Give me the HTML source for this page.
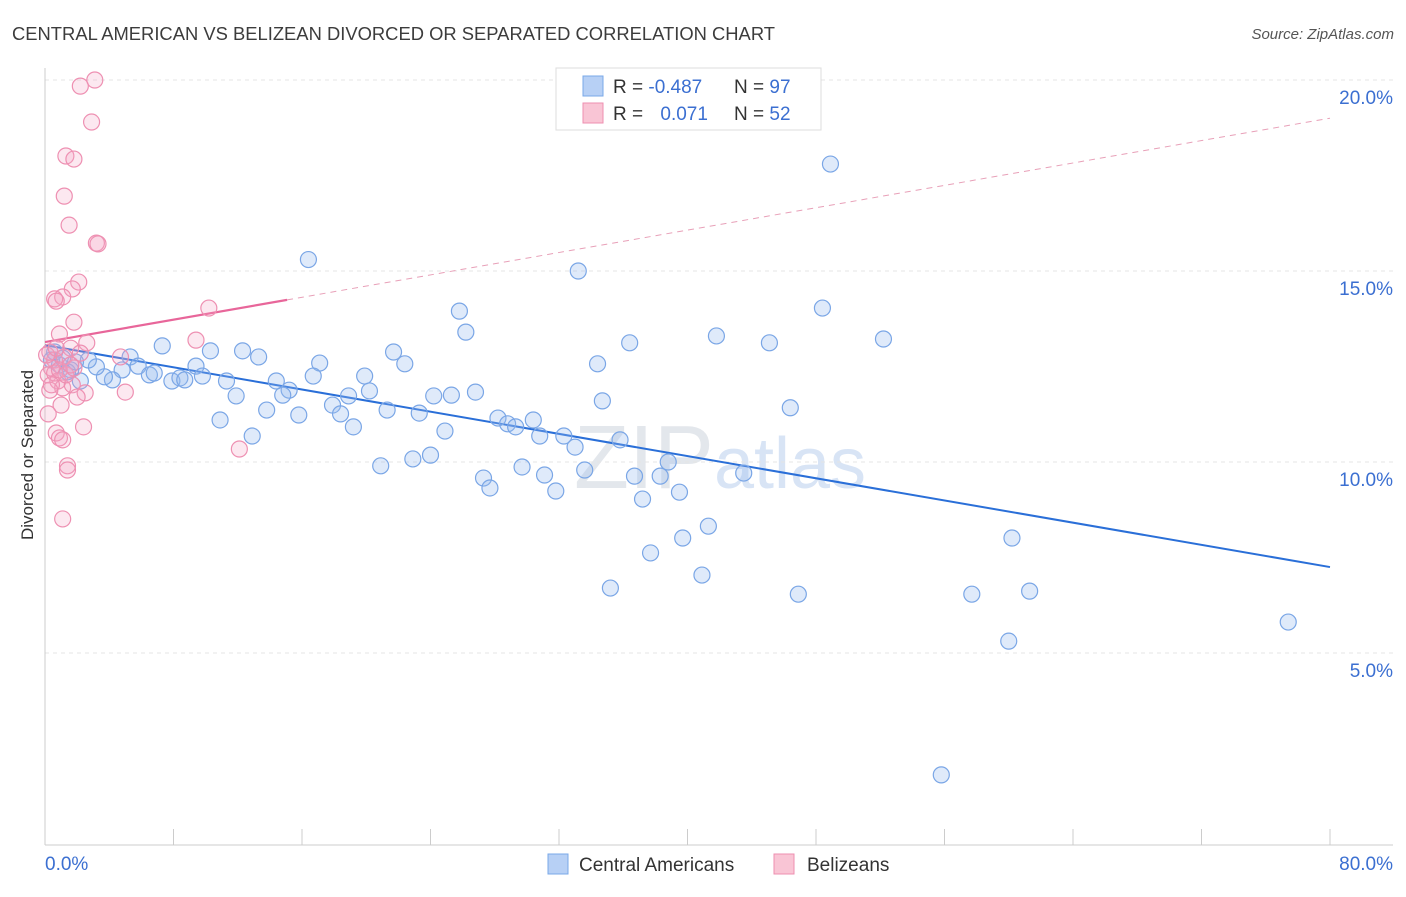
<!DOCTYPE html>
<html><head><meta charset="utf-8"><style>
body{margin:0;background:#fff;font-family:"Liberation Sans",sans-serif}
svg text{font-family:"Liberation Sans",sans-serif}
</style></head><body>
<svg id="chart" width="1406" height="892" xmlns="http://www.w3.org/2000/svg">
<text x="12" y="40" font-size="18" fill="#3c3c3c" textLength="763" lengthAdjust="spacingAndGlyphs">CENTRAL AMERICAN VS BELIZEAN DIVORCED OR SEPARATED CORRELATION CHART</text>
<text x="1394" y="39" font-size="15" fill="#555" text-anchor="end" font-style="italic">Source: ZipAtlas.com</text>
<text x="720" y="488" font-size="90" fill="#dfe6f0" text-anchor="middle" font-family="Liberation Serif" opacity="0.7"><tspan fill="#d8dde4">ZIP</tspan><tspan fill="#c8d9f2" font-family="Liberation Sans" font-size="72">atlas</tspan></text>
<g id="grid"></g>
<g id="axes"></g>
<g id="trend"></g>
<g id="pts"></g>
<text transform="translate(33,455) rotate(-90)" font-size="17" fill="#333" text-anchor="middle">Divorced or Separated</text>
<g>
<rect x="556" y="68" width="265" height="62" fill="#fff" stroke="#ddd"/>
<rect x="583" y="76" width="20" height="20" fill="#b7d0f5" stroke="#7aa8e8"/>
<rect x="583" y="103" width="20" height="20" fill="#f9c5d5" stroke="#ee8fb0"/>
<text x="613" y="93" font-size="19" fill="#333">R = <tspan fill="#3b6fd1">-0.487</tspan></text>
<text x="734" y="93" font-size="19" fill="#333">N = <tspan fill="#3b6fd1">97</tspan></text>
<text x="613" y="120" font-size="19" fill="#333">R = <tspan fill="#3b6fd1" dx="12">0.071</tspan></text>
<text x="734" y="120" font-size="19" fill="#333">N = <tspan fill="#3b6fd1">52</tspan></text>
</g>
<g>
<rect x="548" y="854" width="20" height="20" fill="#b7d0f5" stroke="#7aa8e8"/>
<text x="579" y="871" font-size="19" fill="#333">Central Americans</text>
<rect x="774" y="854" width="20" height="20" fill="#f9c5d5" stroke="#ee8fb0"/>
<text x="807" y="871" font-size="19" fill="#333">Belizeans</text>
</g>
</svg>
<script>
const yTicks=[5,10,15,20];
const yTickLabels=["5.0%","10.0%","15.0%","20.0%"];
const blueX=[16.4,48.9,33.2,48.4,52.2,41.8,45.1,36.4,34.4,34.7,46.4,25.8,26.2,21.7,22.4,17.1,16.7,19.9,18.9,20.2,17.9,18.4,19.2,21.3,23.3,24.2,25.3,26.8,24.9,28.2,28.8,29.3,30.4,30.8,32.3,33.0,35.8,20.9,22.9,24.0,27.3,27.7,29.7,31.1,31.8,33.6,36.7,37.2,38.3,38.8,39.5,43.5,41.3,39.7,37.7,40.9,35.2,46.9,57.7,61.3,60.2,60.0,77.4,55.8,7.3,10.3,12.3,13.3,9.4,9.8,11.3,11.9,14.4,15.2,14.8,15.8,13.8,10.9,12.9,5.3,5.8,6.5,6.8,7.9,8.4,8.7,4.8,4.2,3.7,3.2,2.7,2.2,1.6,0.9,0.4,0.6,1.1,1.4,1.9];
const blueY=[15.3,17.8,15.0,14.03,13.22,13.3,13.12,13.12,12.57,11.6,11.42,13.95,13.4,12.88,12.57,12.59,12.25,12.25,11.73,11.86,11.49,11.26,10.92,11.36,11.28,11.73,11.75,11.83,10.81,11.15,11.0,10.92,11.1,10.68,10.68,10.39,10.58,9.9,10.08,10.18,9.58,9.32,9.87,9.66,9.24,9.79,9.63,9.03,9.63,10.0,9.21,9.71,8.32,8.01,7.62,7.04,6.7,6.54,6.54,6.62,8.01,5.31,5.81,1.81,13.04,12.91,12.91,12.75,12.51,12.25,12.12,11.73,12.12,11.88,11.75,11.23,11.36,11.1,10.68,12.75,12.51,12.28,12.33,12.12,12.2,12.15,12.41,12.15,12.23,12.49,12.67,12.12,12.41,12.54,12.67,12.88,12.72,12.36,12.62];
const pinkX=[3.1,2.2,2.9,1.3,1.8,1.2,1.5,3.2,3.3,2.1,1.7,1.1,0.6,0.7,10.2,1.8,0.9,2.6,9.4,1.6,0.3,0.6,1.2,0.4,0.2,0.8,1.1,1.7,2.5,2.0,0.3,1.0,0.2,2.4,0.7,0.9,1.1,1.4,1.4,1.1,5.0,12.1,4.7,0.6,0.9,1.3,1.8,0.1,0.4,1.6,0.7,2.2];
const pinkY=[20.0,19.84,18.9,18.01,17.93,16.96,16.2,15.73,15.71,14.71,14.53,14.32,14.27,14.21,14.03,13.66,13.35,13.12,13.19,12.98,12.88,12.67,12.75,12.46,12.28,12.12,11.94,12.02,11.81,11.7,11.88,11.49,11.26,10.92,10.76,10.63,10.58,9.9,9.79,8.51,11.83,10.34,12.75,12.33,12.41,12.28,12.46,12.8,12.02,12.54,12.98,12.85];
const blueTrend=[13.06,7.25];
const pinkTrend=[13.14,19.0];
const pinkSolidEnd=15.07;

const X=v=>45+v*(1285/80);
const Y=v=>653-(v-5)*38.2;
const NS="http://www.w3.org/2000/svg";
function mk(tag,attrs,parent){const e=document.createElementNS(NS,tag);for(const k in attrs)e.setAttribute(k,attrs[k]);parent.appendChild(e);return e;}
const grid=document.getElementById('grid'),axes=document.getElementById('axes'),trend=document.getElementById('trend'),pts=document.getElementById('pts');
yTicks.forEach((t,i)=>{
  const l=mk('line',{x1:45,x2:1393,y1:Y(t),y2:Y(t),stroke:'#e4e4e4','stroke-dasharray':'4,4'},grid);
  
  
  const tx=mk('text',{x:1393,y:Y(t)+24,'font-size':19,fill:'#3b6fd1','text-anchor':'end'},axes);
  tx.textContent=yTickLabels[i];
  
  
});
mk('line',{x1:45,x2:45,y1:68,y2:845,stroke:'#ccc'},axes);
mk('line',{x1:45,x2:1393,y1:845,y2:845,stroke:'#ccc'},axes);
for(let i=0;i<=10;i++){const l=mk('line',{x1:X(i*8),x2:X(i*8),y1:829,y2:845,stroke:'#ccc'},axes);
  
  }
let t0=mk('text',{x:45,y:870,'font-size':19,fill:'#3b6fd1'},axes);t0.textContent='0.0%';


let t1=mk('text',{x:1393,y:870,'font-size':19,fill:'#3b6fd1','text-anchor':'end'},axes);t1.textContent='80.0%';



const bl=mk('line',{x1:X(0),y1:Y(blueTrend[0]),x2:X(80),y2:Y(blueTrend[1]),stroke:'#2a6fd8','stroke-width':2},trend);


const pAt=x=>pinkTrend[0]+(pinkTrend[1]-pinkTrend[0])*x/80;
const pd=mk('line',{x1:X(pinkSolidEnd),y1:Y(pAt(pinkSolidEnd)),x2:X(80),y2:Y(pinkTrend[1]),stroke:'#e8a0b8','stroke-width':1,'stroke-dasharray':'6,5'},trend);


const ps=mk('line',{x1:X(0),y1:Y(pinkTrend[0]),x2:X(pinkSolidEnd),y2:Y(pAt(pinkSolidEnd)),stroke:'#e8669a','stroke-width':2.2},trend);



blueX.forEach((x,i)=>{const c=mk('circle',{cx:X(x),cy:Y(blueY[i]),r:8,fill:'rgba(150,185,240,0.3)',stroke:'#7aa6e6','stroke-width':1.2},pts);
  
  });
pinkX.forEach((x,i)=>{const c=mk('circle',{cx:X(x),cy:Y(pinkY[i]),r:8,fill:'rgba(245,165,195,0.25)',stroke:'#ee90b2','stroke-width':1.2},pts);
  
  });
</script>
</body></html>
